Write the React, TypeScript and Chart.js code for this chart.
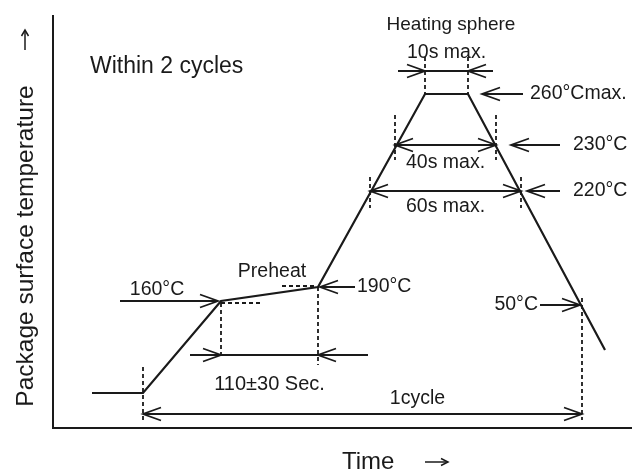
import React, { useEffect, useRef } from "react";
import { Chart, registerables } from "chart.js";

Chart.register(...registerables);

// Diagram units (not to scale): x = time, y = package surface temperature level
const profileTime = [39, 90, 168, 265, 372, 415, 552];
const profileLevel = [35, 35, 127, 141, 334, 334, 78];

// Temperature markers: label and level on the profile
const tempLabels = ["160°C", "190°C", "220°C", "230°C", "260°Cmax.", "50°C"];
const tempLevels = [127, 141, 237, 283, 334, 123];

// Time spans: label, start, end, level of the dimension arrow
const spanLabels = ["10s max.", "40s max.", "60s max.", "110±30 Sec.", "1cycle"];
const spanStart = [372, 342, 317, 168, 90];
const spanEnd = [415, 443, 468, 265, 529];
const spanLevel = [357, 283, 237, 73, 14];

const titleTexts = ["Heating sphere", "Preheat", "Within 2 cycles"];
const axisTitles = ["Package surface temperature", "Time"];

const INK = "#1a1a1a";
const FONT = '"Liberation Sans", Arial, Helvetica, sans-serif';

function head(ctx: CanvasRenderingContext2D, x: number, y: number, angle: number, len = 18, half = 6.5) {
  const ca = Math.cos(angle), sa = Math.sin(angle);
  const bx = x - ca * len, by = y - sa * len;
  const px = -sa * half, py = ca * half;
  ctx.beginPath();
  ctx.moveTo(bx + px, by + py);
  ctx.lineTo(x, y);
  ctx.lineTo(bx - px, by - py);
  ctx.stroke();
}

function line(ctx: CanvasRenderingContext2D, x1: number, y1: number, x2: number, y2: number, dash: number[] = []) {
  ctx.save();
  ctx.setLineDash(dash);
  ctx.beginPath();
  ctx.moveTo(x1, y1);
  ctx.lineTo(x2, y2);
  ctx.stroke();
  ctx.restore();
}

function text(ctx: CanvasRenderingContext2D, s: string, x: number, y: number, align: CanvasTextAlign, size: number) {
  ctx.font = `${size}px ${FONT}`;
  ctx.textAlign = align;
  ctx.textBaseline = "middle";
  ctx.fillText(s, x, y);
}

const diagramPlugin = {
  id: "reflowDiagram",
  afterDatasetsDraw(chart: any) {
    const { ctx } = chart;
    const xs = chart.scales.x;
    const ys = chart.scales.y;
    const X = (v: number) => xs.getPixelForValue(v);
    const Y = (v: number) => ys.getPixelForValue(v);
    const DASH = [4, 3];
    const LS = 19.5;

    ctx.save();
    ctx.strokeStyle = INK;
    ctx.fillStyle = INK;
    ctx.lineCap = "butt";

    // axes
    ctx.lineWidth = 2;
    ctx.beginPath();
    ctx.moveTo(X(0), Y(413));
    ctx.lineTo(X(0), Y(0));
    ctx.lineTo(X(579), Y(0));
    ctx.stroke();

    // y axis title (rotated) and arrow
    ctx.save();
    ctx.translate(X(-20), Y(182));
    ctx.rotate(-Math.PI / 2);
    ctx.font = `24.5px ${FONT}`;
    ctx.textAlign = "center";
    ctx.textBaseline = "alphabetic";
    ctx.fillText(axisTitles[0], 0, 0);
    ctx.restore();
    ctx.lineWidth = 1.5;
    line(ctx, X(-28), Y(378), X(-28), Y(398));
    head(ctx, X(-28), Y(398), -Math.PI / 2, 6, 3.5);

    // x axis title and arrow
    text(ctx, axisTitles[1], X(289), Y(-34), "left", 24);
    line(ctx, X(372), Y(-34), X(395), Y(-34));
    head(ctx, X(395), Y(-34), 0, 7, 3.5);

    // "Within 2 cycles"
    text(ctx, titleTexts[2], X(37), Y(361), "left", 23);

    ctx.lineWidth = 1.8;

    // ---- spans ----
    // 0: 10s max. (heads pointing inward, extension lines outside)
    {
      const s = spanStart[0], e = spanEnd[0], l = spanLevel[0];
      line(ctx, X(s - 27), Y(l), X(e + 25), Y(l));
      head(ctx, X(s), Y(l), 0);
      head(ctx, X(e), Y(l), Math.PI);
      line(ctx, X(s), Y(l + 14), X(s), Y(tempLevels[4]), DASH);
      line(ctx, X(e), Y(l + 14), X(e), Y(tempLevels[4]), DASH);
      text(ctx, spanLabels[0], X((s + e) / 2), Y(l + 18), "center", LS);
      text(ctx, titleTexts[0], X(398), Y(403), "center", 19);
    }
    // 1: 40s max. (heads outward)
    {
      const s = spanStart[1], e = spanEnd[1], l = spanLevel[1];
      line(ctx, X(s), Y(l), X(e), Y(l));
      head(ctx, X(s), Y(l), Math.PI);
      head(ctx, X(e), Y(l), 0);
      line(ctx, X(s), Y(l + 30), X(s), Y(l - 15), DASH);
      line(ctx, X(e), Y(l + 30), X(e), Y(l - 15), DASH);
      text(ctx, spanLabels[1], X((s + e) / 2), Y(l - 18), "center", LS);
    }
    // 2: 60s max. (heads outward)
    {
      const s = spanStart[2], e = spanEnd[2], l = spanLevel[2];
      line(ctx, X(s), Y(l), X(e), Y(l));
      head(ctx, X(s), Y(l), Math.PI);
      head(ctx, X(e), Y(l), 0);
      line(ctx, X(s), Y(l + 14), X(s), Y(l - 17), DASH);
      line(ctx, X(e), Y(l + 14), X(e), Y(l - 17), DASH);
      text(ctx, spanLabels[2], X((s + e) / 2), Y(l - 16), "center", LS);
    }
    // 3: 110±30 Sec. (heads inward)
    {
      const s = spanStart[3], e = spanEnd[3], l = spanLevel[3];
      line(ctx, X(s - 31), Y(l), X(e + 50), Y(l));
      head(ctx, X(s), Y(l), 0);
      head(ctx, X(e), Y(l), Math.PI);
      line(ctx, X(s), Y(tempLevels[0] - 2), X(s), Y(l - 3), DASH);
      line(ctx, X(e), Y(tempLevels[1]), X(e), Y(l - 10), DASH);
      text(ctx, spanLabels[3], X((s + e) / 2), Y(l - 29), "center", 20);
    }
    // 4: 1cycle (heads outward)
    {
      const s = spanStart[4], e = spanEnd[4], l = spanLevel[4];
      line(ctx, X(s), Y(l), X(e), Y(l));
      head(ctx, X(s), Y(l), Math.PI);
      head(ctx, X(e), Y(l), 0);
      line(ctx, X(s), Y(61), X(s), Y(l - 6), DASH);
      line(ctx, X(e), Y(tempLevels[5] + 7), X(e), Y(l - 6), DASH);
      text(ctx, spanLabels[4], X((s + e) / 2 + 55), Y(l + 15), "center", LS);
    }

    // ---- temperature markers ----
    // 160°C: arrow from the left
    {
      const l = tempLevels[0];
      line(ctx, X(67), Y(l), X(165), Y(l));
      head(ctx, X(165), Y(l), 0);
      text(ctx, tempLabels[0], X(104), Y(l + 11), "center", LS);
      line(ctx, X(168), Y(l - 2), X(207), Y(l - 2), DASH);
    }
    // 190°C: arrow from the right + "Preheat"
    {
      const l = tempLevels[1];
      line(ctx, X(267), Y(l), X(302), Y(l));
      head(ctx, X(267), Y(l), Math.PI);
      text(ctx, tempLabels[1], X(304), Y(l), "left", LS);
      line(ctx, X(229), Y(l + 1), X(263), Y(l + 1), DASH);
      text(ctx, titleTexts[1], X(219), Y(l + 15), "center", LS);
    }
    // 220°C, 230°C, 260°Cmax.: arrows from the right
    {
      const tips = [474, 458, 429];
      const tails = [507, 507, 470];
      const txt = [520, 520, 477];
      for (let k = 0; k < 3; k++) {
        const l = tempLevels[2 + k];
        line(ctx, X(tips[k]), Y(l), X(tails[k]), Y(l));
        head(ctx, X(tips[k]), Y(l), Math.PI);
        text(ctx, tempLabels[2 + k], X(txt[k]), Y(l), "left", LS);
      }
    }
    // 50°C: arrow from the left
    {
      const l = tempLevels[5];
      line(ctx, X(487), Y(l), X(527), Y(l));
      head(ctx, X(527), Y(l), 0);
      text(ctx, tempLabels[5], X(485), Y(l), "right", LS);
    }

    ctx.restore();
  },
};

export default function App() {
  const ref = useRef<HTMLCanvasElement | null>(null);

  useEffect(() => {
    if (!ref.current) return;
    const chart = new Chart(ref.current, {
      type: "line",
      data: {
        datasets: [
          {
            label: "Profile",
            data: profileTime.map((t, i) => ({ x: t, y: profileLevel[i] })),
            borderColor: INK,
            borderWidth: 2.2,
            pointRadius: 0,
            tension: 0,
            fill: false,
          },
        ],
      },
      options: {
        responsive: false,
        animation: false,
        events: [],
        layout: { padding: { left: 53, top: 15, right: 11, bottom: 44 } },
        plugins: { legend: { display: false }, tooltip: { enabled: false } },
        scales: {
          x: { type: "linear", min: 0, max: 579, display: false },
          y: { type: "linear", min: 0, max: 413, display: false },
        },
      },
      plugins: [diagramPlugin],
    });
    return () => chart.destroy();
  }, []);

  return (
    <div style={{ position: "fixed", left: 0, top: 0, width: 643, height: 472, background: "#fff" }}>
      <canvas ref={ref} width={643} height={472} />
    </div>
  );
}
